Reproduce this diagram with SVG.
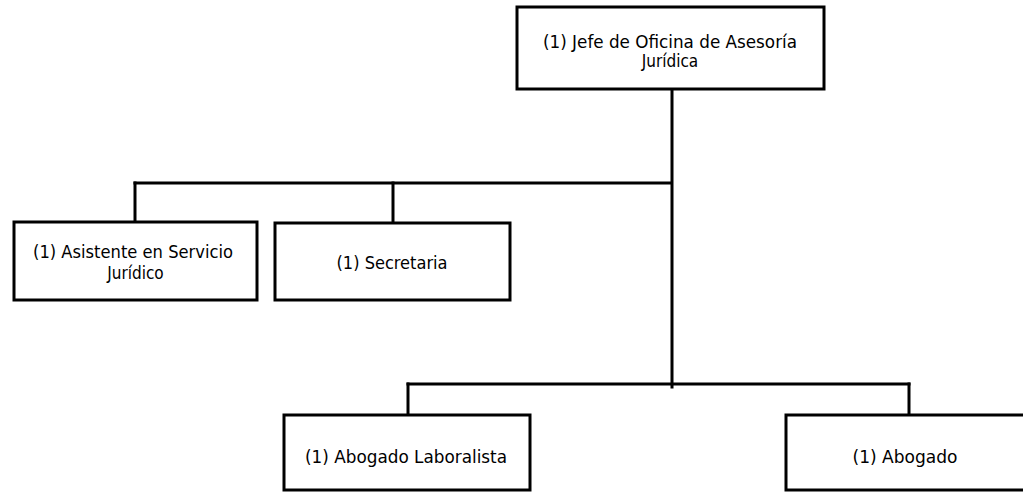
<svg xmlns="http://www.w3.org/2000/svg" width="1023" height="493" viewBox="0 0 1023 493">
  <style>
    .box { fill: #ffffff; stroke: #000000; stroke-width: 3; }
    .link { fill: none; stroke: #000000; stroke-width: 3; stroke-linecap: square; }
    .label { font-family: "DejaVu Sans Condensed", "DejaVu Sans", sans-serif; font-size: 17px; fill: #000000; text-anchor: middle; }
  </style>
  <rect width="1023" height="493" fill="#ffffff"/>

  <!-- connectors -->
  <g id="connectors">
    <path class="link" d="M672,90 V387"/>
    <path class="link" d="M135,183 H670"/>
    <path class="link" d="M135,183 V220"/>
    <path class="link" d="M393,183 V222"/>
    <path class="link" d="M408,384 H909"/>
    <path class="link" d="M408,384 V413"/>
    <path class="link" d="M909,384 V413"/>
  </g>

  <!-- head -->
  <g id="jefe">
    <rect class="box" x="517" y="7" width="307" height="82"/>
    <text class="label" x="670" y="48" textLength="254" lengthAdjust="spacingAndGlyphs">(1) Jefe de Oficina  de Asesoría</text>
    <text class="label" x="670" y="67">Jurídica</text>
  </g>

  <g id="asistente">
    <rect class="box" x="14" y="222" width="243" height="78"/>
    <text class="label" x="133" y="258" textLength="200" lengthAdjust="spacingAndGlyphs">(1) Asistente en Servicio</text>
    <text class="label" x="135.5" y="279">Jurídico</text>
  </g>

  <g id="secretaria">
    <rect class="box" x="275" y="223" width="235" height="77"/>
    <text class="label" x="392" y="269" textLength="111" lengthAdjust="spacingAndGlyphs">(1) Secretaria</text>
  </g>

  <g id="abogado-laboralista">
    <rect class="box" x="284" y="415" width="246" height="75"/>
    <text class="label" x="406" y="463" textLength="202" lengthAdjust="spacingAndGlyphs">(1) Abogado Laboralista</text>
  </g>

  <g id="abogado">
    <rect class="box" x="786" y="415" width="250" height="75"/>
    <text class="label" x="905" y="463" textLength="105" lengthAdjust="spacingAndGlyphs">(1) Abogado</text>
  </g>
</svg>
